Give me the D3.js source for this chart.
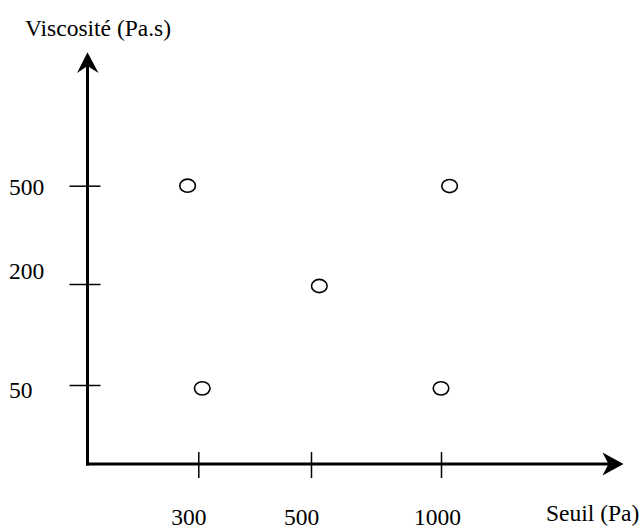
<!DOCTYPE html>
<html>
<head>
<meta charset="utf-8">
<script src="https://cdn.jsdelivr.net/npm/d3@7/dist/d3.min.js"></script>
<style>
  html, body { margin: 0; padding: 0; background: #fff; }
  svg { display: block; }
  text { font-family: "Liberation Serif", "Times New Roman", serif; fill: #000; }
</style>
</head>
<body>
<svg id="chart" width="642" height="530"></svg>
<script>
// ---- data ----
const xTicks = [300, 500, 1000];
const yTicks = [50, 200, 500];
const xTickLabels = ["300", "500", "1000"];
const yTickLabels = ["50", "200", "500"];
const seuil = [281, 1033, 532, 307, 1000];      // Seuil (Pa)
const viscosite = [500, 499, 197, 45, 45];      // Viscosité (Pa.s)
const xTitle = "Seuil (Pa)";
const yTitle = "Viscosité (Pa.s)";

// ---- layout ----
const svg = d3.select("#chart");
const axisX0 = 87.5, axisY0 = 464;
const x = d3.scaleLinear().domain(xTicks).range([198.3, 311, 441]);
const y = d3.scaleLinear().domain(yTicks).range([385, 284, 185.7]);

// axes lines
svg.append("line").attr("x1", axisX0).attr("x2", axisX0).attr("y1", axisY0 + 1.5).attr("y2", 64)
  .attr("stroke", "#000").attr("stroke-width", 3);
svg.append("line").attr("x1", axisX0 - 1.5).attr("x2", 610).attr("y1", axisY0).attr("y2", axisY0)
  .attr("stroke", "#000").attr("stroke-width", 3);

// arrowheads
svg.append("path")
  .attr("d", `M${axisX0},52.3 L98.5,73 L${axisX0},66 L77,73 Z`)
  .attr("fill", "#000");
svg.append("path")
  .attr("d", `M623.5,${axisY0} L602.5,452.5 L608.5,${axisY0} L602.5,475.5 Z`)
  .attr("fill", "#000");

// x ticks via axis generator
const xAxis = d3.axisBottom(x).tickValues(xTicks).tickFormat("").tickSize(0).tickSizeOuter(0);
const gx = svg.append("g").attr("transform", `translate(0,${axisY0})`).call(xAxis);
gx.select(".domain").remove();
gx.selectAll(".tick line").attr("y1", -12).attr("y2", 14).attr("stroke", "#000").attr("stroke-width", 1.5);

// x tick labels
svg.append("g").selectAll("text").data(xTicks).join("text")
  .attr("x", d => x(d) - 27)
  .attr("y", 525)
  .attr("font-size", 23.5)
  .attr("text-anchor", "start")
  .text((d, i) => xTickLabels[i]);

// y ticks
const yAxis = d3.axisLeft(y).tickValues(yTicks).tickFormat("").tickSize(0).tickSizeOuter(0);
const gy = svg.append("g").attr("transform", `translate(${axisX0},0)`).call(yAxis);
gy.select(".domain").remove();
gy.selectAll(".tick line").attr("x1", -18).attr("x2", 13).attr("stroke", "#000").attr("stroke-width", 1.5);

// y tick labels
const yLabelDy = [13, -5, 9.5];
svg.append("g").selectAll("text").data(yTicks).join("text")
  .attr("x", 9)
  .attr("y", (d, i) => y(d) + yLabelDy[i])
  .attr("font-size", 23.5)
  .attr("text-anchor", "start")
  .text((d, i) => yTickLabels[i]);

// axis titles
svg.append("text").attr("x", 25).attr("y", 36).attr("font-size", 23.5).text(yTitle);
svg.append("text").attr("x", 546).attr("y", 521).attr("font-size", 23.5).text(xTitle);

// points
svg.append("g").selectAll("ellipse").data(seuil).join("ellipse")
  .attr("cx", d => x(d))
  .attr("cy", (d, i) => y(viscosite[i]))
  .attr("rx", 7.8)
  .attr("ry", 6.6)
  .attr("fill", "none")
  .attr("stroke", "#000")
  .attr("stroke-width", 1.6);
</script>
</body>
</html>
